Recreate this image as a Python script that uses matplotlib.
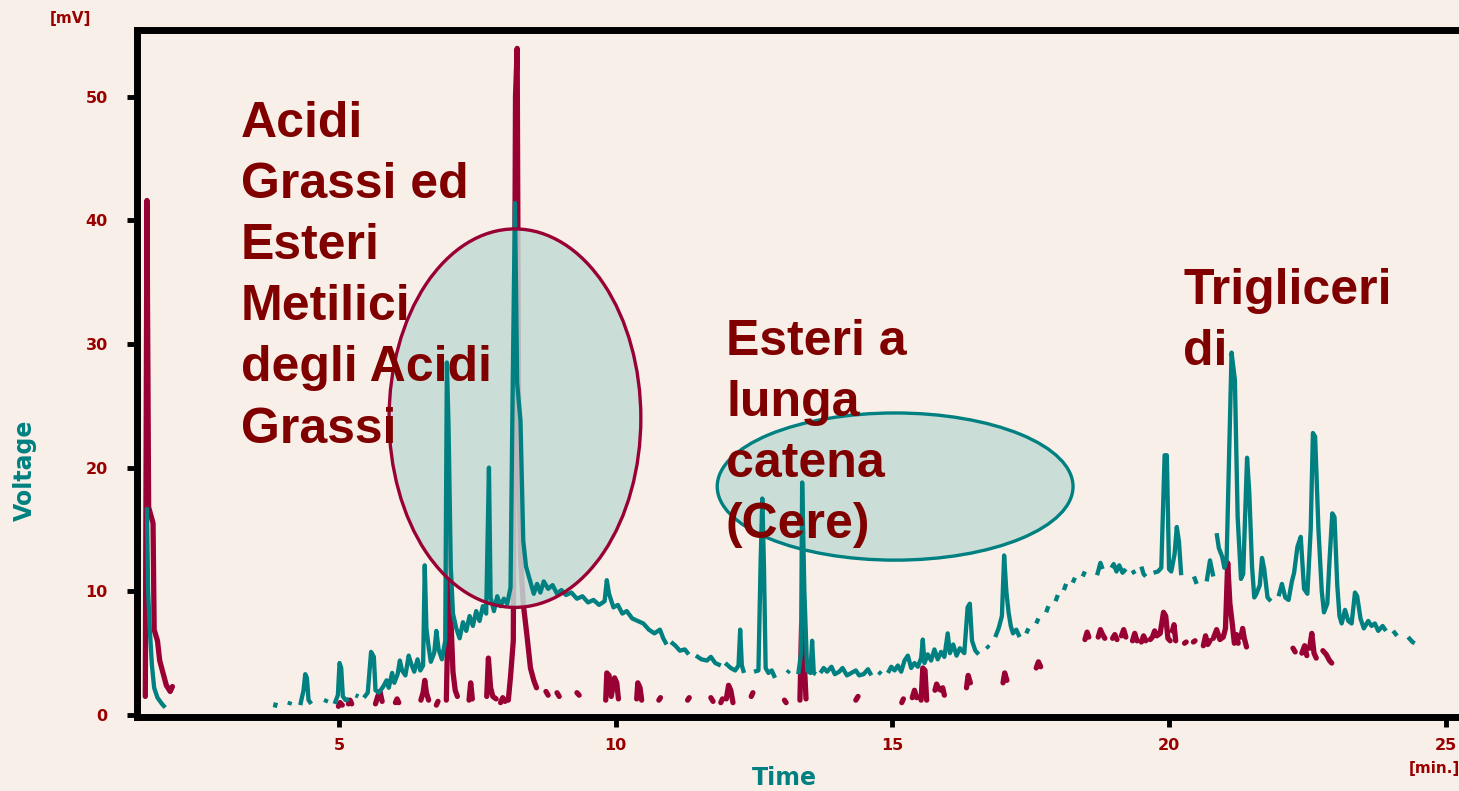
import numpy as np
import matplotlib
matplotlib.use('Agg')
import matplotlib.pyplot as plt
import matplotlib.patches as patches

nan = np.nan

# teal trace (time [min], voltage [mV]); nan = gap in the recorded line
teal_t = [1.53, 1.55, 1.58, 1.62, 1.66, 1.72, 1.80, 1.86, nan,
          3.84, 3.86, nan, 4.10, 4.12, nan,
          4.30, 4.36, 4.39, 4.42, 4.45, 4.50, nan, 4.75, 4.78, nan,
          4.92, 4.98, 5.01, 5.04, 5.07, 5.12, 5.18, nan, 5.30, 5.35, nan,
          5.45, 5.52, 5.58, 5.63, 5.66, 5.72, 5.80, 5.86, 5.90, 5.96, 6.00, 6.06, 6.10, 6.14,
          6.20, 6.26, 6.30, 6.36, 6.42, 6.47, 6.52, 6.55, 6.58, 6.62, 6.66, 6.72, 6.76, 6.80,
          6.86, 6.92, 6.95, 6.98, 7.02, 7.06, 7.12, 7.18, 7.24, 7.30, 7.36, 7.42, 7.48, 7.54,
          7.60, 7.66, 7.71, 7.74, 7.80, 7.86, 7.92, 7.98, 8.04, 8.10, 8.14, 8.18, 8.22, 8.28,
          8.33, 8.38, 8.45, 8.52, 8.58, 8.64, 8.70, 8.78, 8.86, 8.94, 9.02, 9.10, 9.20, 9.30,
          9.40, 9.50, 9.60, 9.70, 9.80, 9.84, 9.88, 9.96, 10.04, 10.12, 10.20, 10.30, 10.40,
          10.50, 10.60, 10.70, 10.80, 10.86, 10.92, nan,
          11.00, 11.08, 11.16, 11.25, 11.32, nan,
          11.45, 11.55, 11.65, 11.72, 11.80, 11.90, nan,
          11.98, 12.08, 12.16, 12.22, 12.25, 12.28, 12.32, nan,
          12.50, 12.58, 12.62, 12.65, 12.68, 12.71, 12.76, 12.82, 12.88, nan,
          13.10, 13.14, nan,
          13.30, 13.35, 13.37, 13.41, 13.46, 13.52, 13.55, 13.58, 13.62, nan,
          13.70, 13.76, 13.82, 13.90, 13.96, 14.04, 14.10, 14.18, 14.26, 14.34, 14.40, 14.48,
          14.56, 14.62, nan, 14.75, 14.80, nan,
          14.92, 14.98, 15.04, 15.10, 15.16, 15.22, 15.28, 15.34, 15.40, 15.46, 15.52, 15.55,
          15.58, 15.64, 15.70, 15.76, 15.82, 15.88, 15.94, 16.00, 16.04, 16.10, 16.16, 16.22,
          16.30, 16.36, 16.40, 16.44, 16.50, 16.56, nan, 16.70, 16.75, nan,
          16.86, 16.92, 16.98, 17.02, 17.06, 17.10, 17.14, 17.18, 17.24, 17.30, nan,
          17.42, 17.46, nan, 17.60, 17.64, nan, 17.78, 17.82, nan, 17.95, 17.99, nan,
          18.10, 18.14, nan, 18.26, 18.30, nan, 18.44, 18.48, nan,
          18.70, 18.76, 18.80, nan, 18.96, 19.00, 19.05, 19.10, 19.16, 19.22, nan,
          19.34, 19.38, nan, 19.50, 19.54, 19.58, nan,
          19.72, 19.80, 19.86, 19.92, 19.96, 20.00, 20.04, 20.10, 20.14, 20.18, 20.22, nan,
          20.45, 20.50, nan, 20.68, 20.74, 20.80, nan,
          20.86, 20.90, 20.96, 21.00, 21.04, 21.08, 21.13, 21.19, 21.24, 21.30, 21.34, 21.41,
          21.45, 21.50, 21.54, 21.58, 21.64, 21.68, 21.72, 21.78, 21.84, nan,
          21.98, 22.04, 22.10, 22.16, 22.22, 22.26, 22.32, 22.38, 22.44, 22.50, 22.56, 22.60,
          22.64, 22.70, 22.76, 22.80, 22.86, 22.90, 22.95, 22.99, 23.04, 23.08, 23.12, 23.18,
          23.24, 23.30, 23.36, 23.40, 23.46, 23.52, 23.60, 23.66, 23.72, 23.78, 23.86, 23.92, nan,
          24.05, 24.12, nan, 24.32, 24.40, 24.44]
teal_v = [16.8, 10.1, 7.0, 4.0, 2.2, 1.4, 0.9, 0.6, nan,
          0.6, 1.0, nan, 0.8, 1.1, nan,
          0.8, 2.0, 3.3, 3.0, 1.2, 0.9, nan, 1.0, 1.3, nan,
          0.9, 1.6, 4.2, 3.8, 1.5, 1.2, 1.3, nan, 1.6, 1.5, nan,
          1.4, 1.8, 5.1, 4.7, 2.0, 1.8, 2.3, 2.8, 2.2, 3.4, 2.6, 3.3, 4.4, 3.6,
          3.2, 4.8, 4.2, 3.5, 4.5, 3.6, 4.0, 12.1, 7.0, 5.5, 4.3, 5.0, 6.8, 5.3,
          4.5, 6.0, 28.5, 23.3, 12.0, 8.2, 7.0, 6.2, 7.5, 6.8, 8.0, 7.2, 8.4, 7.6,
          8.8, 8.2, 20.0, 9.5, 8.4, 9.6, 8.8, 9.4, 9.0, 10.3, 26.8, 41.4, 26.8, 23.8,
          14.1, 12.0, 10.9, 9.8, 10.6, 9.9, 10.8, 10.2, 10.5, 9.8, 10.1, 9.7, 9.9, 9.4,
          9.6, 9.1, 9.3, 8.9, 9.2, 10.9, 9.8, 8.7, 8.9, 8.2, 8.4, 7.8, 7.6,
          7.4, 6.9, 6.6, 6.9, 6.2, 5.7, nan,
          5.9, 5.6, 5.2, 5.3, 4.9, nan,
          4.8, 4.5, 4.4, 4.7, 4.2, 4.0, nan,
          4.2, 3.8, 3.6, 4.0, 6.9, 4.0, 3.4, nan,
          3.5, 3.6, 12.5, 17.5, 12.0, 3.8, 3.4, 3.6, 3.0, nan,
          3.4, 3.6, nan,
          3.3, 5.0, 18.8, 10.0, 3.6, 3.4, 6.0, 3.4, 3.3, nan,
          3.4, 3.8, 3.5, 3.9, 3.3, 3.5, 3.8, 3.2, 3.4, 3.6, 3.2, 3.3,
          3.7, 3.2, nan, 3.5, 3.3, nan,
          3.4, 3.9, 3.6, 4.0, 3.5, 4.4, 4.8, 3.8, 4.2, 3.9, 4.6, 6.1,
          4.2, 4.9, 4.4, 5.3, 4.5, 5.1, 4.7, 6.6, 5.0, 5.7, 4.8, 5.4,
          5.0, 8.7, 9.0, 6.0, 5.2, 4.9, nan, 5.6, 5.4, nan,
          6.3, 7.0, 8.0, 12.9, 10.0, 8.3, 7.2, 6.6, 6.9, 6.3, nan,
          6.6, 7.0, nan, 7.4, 7.8, nan, 8.3, 8.8, nan, 9.2, 9.7, nan,
          10.1, 10.6, nan, 10.7, 11.1, nan, 11.2, 11.6, nan,
          11.3, 12.3, 11.8, nan, 11.9, 12.2, 11.6, 12.1, 11.5, 11.8, nan,
          11.7, 11.4, nan, 12.0, 11.4, 11.2, nan,
          11.5, 11.6, 11.9, 21.0, 21.0, 11.8, 11.6, 13.0, 15.2, 14.0, 11.3, nan,
          11.2, 10.6, nan, 10.8, 12.5, 11.2, nan,
          14.7, 13.5, 12.8, 11.9, 12.5, 20.0, 29.3, 27.1, 16.0, 11.0, 11.4, 20.8,
          18.0, 12.0, 9.5, 9.8, 10.5, 12.7, 11.8, 9.5, 9.2, nan,
          9.6, 10.6, 9.5, 9.3, 10.8, 11.5, 13.6, 14.4, 10.2, 9.8, 15.0, 22.8,
          22.5, 15.0, 10.0, 8.3, 9.0, 12.5, 16.3, 16.0, 10.5, 8.0, 7.4, 8.5,
          7.6, 7.4, 9.9, 9.6, 7.8, 7.0, 7.6, 7.2, 7.4, 6.8, 7.2, 6.8, nan,
          6.8, 6.4, nan, 6.3, 5.9, 5.8]

# crimson trace
red_t = [1.50, 1.53, 1.56, 1.64, 1.66, 1.72, 1.76, 1.82, 1.88, 1.95, 1.99, nan,
         4.99, 5.02, 5.06, nan, 5.17, 5.20, 5.23, nan,
         5.66, 5.70, 5.74, 5.78, nan, 6.02, 6.05, 6.08, nan,
         6.48, 6.52, 6.55, 6.58, 6.62, nan, 6.76, 6.79, nan,
         6.94, 6.97, 6.99, 7.02, 7.06, 7.10, 7.14, nan,
         7.35, 7.38, 7.41, nan, 7.67, 7.70, 7.74, 7.78, 7.84, nan,
         7.92, 7.96, 8.00, nan,
         8.06, 8.10, 8.15, 8.19, 8.22, 8.25, 8.28, 8.33, 8.40, 8.46, 8.52, 8.57, nan,
         8.74, 8.78, nan, 8.94, 8.98, nan, 9.30, 9.34, nan,
         9.82, 9.84, 9.88, 9.92, 9.98, 10.02, 10.05, nan,
         10.38, 10.40, 10.44, 10.47, nan, 10.78, 10.81, nan, 11.30, 11.33, nan,
         11.72, 11.76, nan, 11.90, 11.93, nan,
         12.00, 12.04, 12.08, 12.12, nan, 12.45, 12.48, nan, 13.05, 13.08, nan,
         13.33, 13.36, 13.40, 13.44, nan, 14.34, 14.38, nan, 15.17, 15.20, nan,
         15.36, 15.40, 15.44, nan, 15.52, 15.55, 15.59, 15.62, nan,
         15.77, 15.80, 15.84, 15.88, 15.91, 15.94, nan,
         16.34, 16.37, 16.41, nan, 17.00, 17.03, 17.07, nan, 17.60, 17.64, 17.68, nan,
         18.48, 18.52, 18.55, nan, 18.72, 18.76, 18.80, 18.84, nan,
         18.98, 19.02, 19.06, nan, 19.14, 19.18, 19.22, nan, 19.34, 19.38, 19.42, nan,
         19.50, 19.54, 19.58, nan,
         19.66, 19.70, 19.74, 19.78, 19.84, 19.90, 19.94, 19.98, 20.02, nan,
         20.06, 20.09, 20.12, nan, 20.28, 20.31, nan, 20.44, 20.47, nan,
         20.62, 20.66, 20.70, 20.74, nan,
         20.80, 20.86, 20.92, 20.98, 21.02, 21.06, 21.10, 21.14, 21.18, nan,
         21.22, 21.25, nan, 21.30, 21.33, 21.36, 21.40, nan,
         22.24, 22.28, nan, 22.40, 22.45, 22.49, nan,
         22.54, 22.58, 22.62, 22.66, nan, 22.78, 22.84, 22.90, 22.94]
red_v = [1.5, 41.6, 16.8, 15.5, 6.9, 6.0, 4.4, 3.4, 2.4, 1.9, 2.3, nan,
         0.7, 1.0, 0.8, nan, 0.9, 1.2, 0.9, nan,
         0.9, 1.5, 1.9, 1.1, nan, 1.0, 1.3, 1.0, nan,
         1.2, 1.8, 2.8, 1.8, 1.2, nan, 0.8, 1.1, nan,
         1.2, 8.0, 15.1, 8.0, 3.5, 2.0, 1.5, nan,
         1.2, 2.6, 1.3, nan, 1.5, 4.6, 2.2, 1.5, 1.3, nan,
         1.0, 1.4, 1.1, nan,
         1.2, 3.1, 6.0, 50.0, 53.9, 20.0, 12.8, 9.0, 6.3, 3.8, 2.8, 2.2, nan,
         1.9, 1.6, nan, 1.8, 1.5, nan, 1.8, 1.6, nan,
         1.2, 3.4, 3.2, 1.5, 3.0, 2.6, 1.3, nan,
         1.3, 2.6, 2.2, 1.2, nan, 1.2, 1.4, nan, 1.2, 1.4, nan,
         1.4, 1.1, nan, 1.0, 1.3, nan,
         1.3, 2.4, 2.0, 1.0, nan, 1.5, 1.8, nan, 1.2, 1.0, nan,
         1.2, 7.3, 5.0, 1.3, nan, 1.2, 1.5, nan, 1.0, 1.3, nan,
         1.4, 2.0, 1.4, nan, 1.2, 3.8, 3.6, 1.2, nan,
         2.0, 2.5, 2.1, 2.0, 2.2, 1.6, nan,
         2.2, 3.2, 2.6, nan, 2.6, 3.4, 2.8, nan, 3.8, 4.3, 3.9, nan,
         6.1, 6.7, 6.3, nan, 6.3, 6.9, 6.5, 6.2, nan,
         6.2, 6.5, 6.1, nan, 6.4, 6.9, 6.3, nan, 6.0, 6.6, 6.0, nan,
         5.9, 6.4, 6.0, nan,
         6.1, 6.3, 6.8, 6.4, 6.6, 8.3, 8.0, 6.2, 6.0, nan,
         6.8, 7.3, 6.0, nan, 5.8, 5.9, nan, 5.9, 6.0, nan,
         5.6, 6.4, 5.7, 6.0, nan,
         6.2, 6.9, 6.1, 6.3, 7.0, 12.3, 9.0, 7.5, 5.8, nan,
         6.5, 5.8, nan, 6.3, 7.0, 6.2, 5.5, nan,
         5.4, 5.1, nan, 5.0, 5.6, 4.8, nan,
         5.4, 6.6, 5.0, 4.6, nan, 5.2, 4.9, 4.4, 4.2]

x_ticks = [5, 10, 15, 20, 25]
y_ticks = [0, 10, 20, 30, 40, 50]

bg = '#f8f0e8'
teal = '#008080'
crimson = '#990033'
darkred = '#800000'
ticklab = '#990000'

fig = plt.figure(figsize=(14.59, 7.91), dpi=100, facecolor=bg)
ax = fig.add_axes([0.0939, 0.0936, 0.9061, 0.8684])
ax.set_facecolor(bg)

ax.plot(red_t, red_v, color=crimson, lw=3.8, solid_capstyle='round', zorder=2)

for c, w, h in [((8.18, 24.0), 4.55, 30.6), ((15.05, 18.47), 6.43, 11.9)]:
    ax.add_patch(patches.Ellipse(c, w, h, facecolor='#c4dad5', edgecolor='none', alpha=0.85, zorder=3))

ax.plot(teal_t, teal_v, color=teal, lw=3.1, solid_capstyle='butt', zorder=4)

ax.add_patch(patches.Ellipse((8.18, 24.0), 4.55, 30.6, facecolor='none', edgecolor=crimson, lw=2.4, zorder=5))
ax.add_patch(patches.Ellipse((15.05, 18.47), 6.43, 11.9, facecolor='none', edgecolor=teal, lw=2.4, zorder=5))

ax.set_xlim(1.35, 25.24)
ax.set_ylim(-0.16, 55.38)
ax.set_xticks(x_ticks)
ax.set_yticks(y_ticks)
ax.tick_params(direction='out', length=7, width=3.5, colors='black', labelcolor=ticklab,
               labelsize=11.5, pad=8)
ax.tick_params(axis='y', pad=14)
for lab in ax.get_xticklabels() + ax.get_yticklabels():
    lab.set_fontweight('bold')
for side in ['left', 'top', 'bottom']:
    ax.spines[side].set_linewidth(5)
    ax.spines[side].set_color('black')
ax.spines['right'].set_visible(False)

tkw = dict(color=darkred, fontsize=36, fontweight='bold', va='top', ha='left',
           linespacing=1.42, zorder=10, family=['Liberation Sans', 'DejaVu Sans'])
fig.text(241 / 1459, 1 - 101 / 791, 'Acidi\nGrassi ed\nEsteri\nMetilici\ndegli Acidi\nGrassi', **tkw)
fig.text(726 / 1459, 1 - 319 / 791, 'Esteri a\nlunga\ncatena\n(Cere)', **tkw)
fig.text(1183 / 1459, 1 - 268 / 791, 'Trigliceri\ndi', **tkw)

fig.text(25 / 1459, 1 - 470 / 791, 'Voltage', color=teal, fontsize=17, fontweight='bold',
         rotation=90, ha='center', va='center')
fig.text(784 / 1459, 1 - 778 / 791, 'Time', color=teal, fontsize=17, fontweight='bold',
         ha='center', va='center')
fig.text(70 / 1459, 1 - 18 / 791, '[mV]', color=ticklab, fontsize=11, fontweight='bold',
         ha='center', va='center')
fig.text(1434 / 1459, 1 - 768 / 791, '[min.]', color=ticklab, fontsize=11, fontweight='bold',
         ha='center', va='center')

fig.savefig('out.png', dpi=100, facecolor=bg)
